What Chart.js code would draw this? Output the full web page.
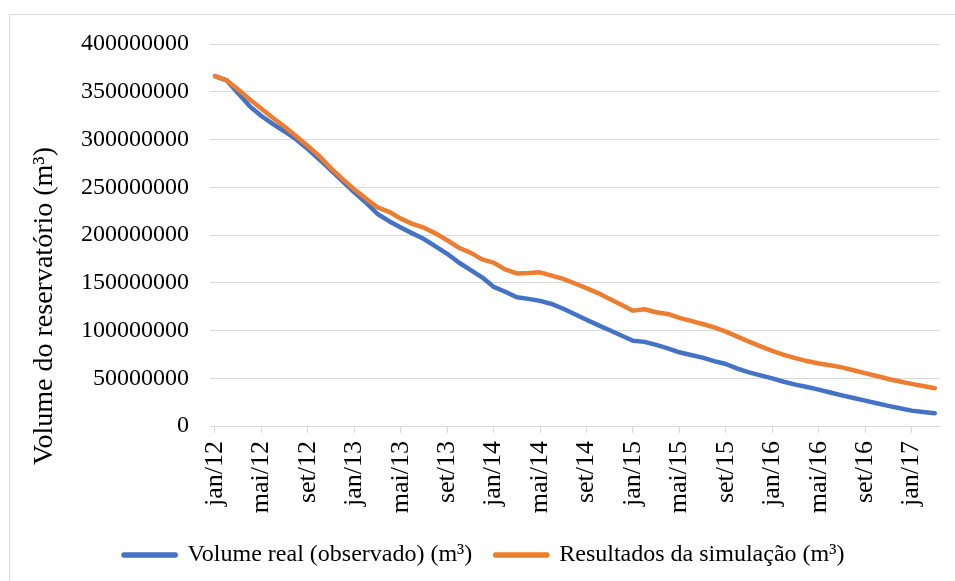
<!DOCTYPE html>
<html>
<head>
<meta charset="utf-8">
<script src="https://cdn.jsdelivr.net/npm/chart.js@4/dist/chart.umd.min.js"></script>
<style>
  html, body { margin: 0; padding: 0; background: #fff; }
  #wrap { width: 955px; height: 581px; position: relative; }
</style>
</head>
<body>
<div id="wrap"><canvas id="chart"></canvas></div>
<script>
// months jan/12 .. mar/17
const months = [
  'jan/12','fev/12','mar/12','abr/12','mai/12','jun/12','jul/12','ago/12','set/12','out/12','nov/12','dez/12',
  'jan/13','fev/13','mar/13','abr/13','mai/13','jun/13','jul/13','ago/13','set/13','out/13','nov/13','dez/13',
  'jan/14','fev/14','mar/14','abr/14','mai/14','jun/14','jul/14','ago/14','set/14','out/14','nov/14','dez/14',
  'jan/15','fev/15','mar/15','abr/15','mai/15','jun/15','jul/15','ago/15','set/15','out/15','nov/15','dez/15',
  'jan/16','fev/16','mar/16','abr/16','mai/16','jun/16','jul/16','ago/16','set/16','out/16','nov/16','dez/16',
  'jan/17','fev/17','mar/17'
];

// volume (millions of m³)
const observed = [
  366.4, 362.0, 348.5, 334.7, 324.6, 316.1, 308.4, 300.1, 289.9, 278.9, 267.7, 256.2,
  244.7, 233.9, 222.0, 214.5, 207.9, 201.7, 195.7, 188.1, 180.3, 171.2, 163.5, 155.7,
  145.7, 140.6, 134.8, 133.1, 131.0, 127.8, 122.8, 117.1, 111.2, 105.6, 100.2, 94.8,
  89.3, 88.1, 85.0, 81.3, 77.2, 74.4, 71.6, 68.0, 64.9, 60.1, 56.2, 53.0,
  49.8, 46.3, 43.3, 40.8, 38.1, 35.1, 32.1, 29.3, 26.6, 23.8, 21.1, 18.6,
  16.1, 14.7, 13.3
];
const simulated = [
  366.4, 362.0, 352.3, 342.0, 332.1, 322.5, 313.4, 303.3, 293.2, 282.5, 269.8, 258.6,
  247.8, 238.1, 228.9, 224.3, 217.1, 211.7, 207.7, 201.7, 194.5, 186.7, 181.6, 174.5,
  171.1, 163.9, 159.8, 160.1, 160.9, 157.5, 154.0, 149.2, 144.3, 139.2, 133.1, 127.0,
  120.8, 122.2, 119.1, 117.3, 113.3, 110.0, 106.8, 103.2, 98.8, 93.6, 88.4, 83.3,
  78.6, 74.5, 71.1, 68.0, 65.5, 63.6, 61.4, 58.4, 55.3, 52.3, 49.2, 46.6,
  44.1, 41.9, 39.6
];

const seriesNames = ['Volume real (observado) (m³)', 'Resultados da simulação (m³)'];
const colors = ['#4472C4', '#ED7D31'];
const yTitle = 'Volume do reservatório (m³)';

const FONT = "'Liberation Serif', 'Times New Roman', serif";

function points(arr) {
  return arr.map((v, i) => ({x: i, y: Math.round(v * 1e6)}));
}

// outer frame + y axis title (centred on the whole chart height, like Excel)
const decor = {
  id: 'decor',
  beforeDraw(chart) {
    const ctx = chart.ctx;
    ctx.save();
    ctx.strokeStyle = '#d9d9d9';
    ctx.lineWidth = 1;
    ctx.strokeRect(9.5, 14.5, 980, 600);
    ctx.restore();
  },
  afterDraw(chart) {
    const ctx = chart.ctx;
    ctx.save();
    ctx.translate(45, 306);
    ctx.rotate(-Math.PI / 2);
    ctx.font = '28px ' + FONT;
    ctx.fillStyle = '#000';
    ctx.textAlign = 'center';
    ctx.textBaseline = 'middle';
    ctx.fillText(yTitle, 0, 0);
    ctx.restore();
  }
};

new Chart(document.getElementById('chart'), {
  type: 'line',
  data: {
    datasets: [observed, simulated].map((arr, k) => ({
      label: seriesNames[k],
      data: points(arr),
      borderColor: colors[k],
      backgroundColor: colors[k],
      borderWidth: 4.5,
      borderCapStyle: 'round',
      borderJoinStyle: 'round',
      pointRadius: 0,
      fill: false,
      order: 1 - k
    }))
  },
  plugins: [decor],
  options: {
    responsive: true,
    maintainAspectRatio: false,
    animation: false,
    devicePixelRatio: 1,
    layout: { padding: { left: 28, right: 15, top: 44, bottom: 4 } },
    plugins: {
      tooltip: { enabled: false },
      legend: {
        position: 'bottom',
        maxHeight: 65,
        labels: {
          font: { family: FONT, size: 24 },
          color: '#000',
          boxWidth: 52,
          boxHeight: 1,
          padding: 23,
          sort: (a, b) => a.datasetIndex - b.datasetIndex
        }
      }
    },
    scales: {
      x: {
        type: 'linear',
        min: -0.43,
        max: 62.45,
        afterFit: (axis) => { axis.height = 94; },
        grid: { drawOnChartArea: false, drawTicks: true, tickLength: 7, color: '#d9d9d9' },
        border: { color: '#d9d9d9', width: 1 },
        ticks: {
          stepSize: 4,
          includeBounds: false,
          autoSkip: false,
          minRotation: 90,
          maxRotation: 90,
          padding: 8,
          color: '#000',
          font: { family: FONT, size: 26 },
          callback: (v) => (v % 4 === 0 ? months[v] : '')
        }
      },
      y: {
        min: 0,
        max: 400000000,
        afterFit: (axis) => { axis.width = 182; },
        grid: { color: '#d9d9d9', drawTicks: false, lineWidth: 1 },
        border: { display: false },
        ticks: {
          stepSize: 50000000,
          padding: 21,
          color: '#000',
          font: { family: FONT, size: 24 },
          callback: (v) => String(v)
        }
      }
    }
  }
});
</script>
</body>
</html>
